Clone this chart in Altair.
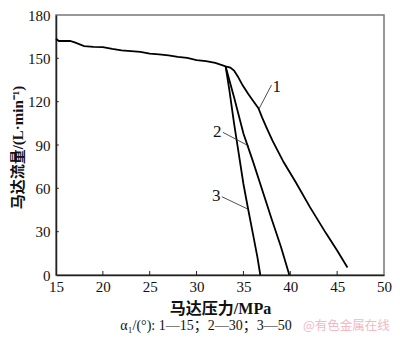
import altair as alt
import pandas as pd

# Curve 1 (alpha1 = 15)
c1_p = [15, 15.3, 16.5, 17, 18, 19, 20, 21, 22, 23, 24, 25, 26, 27, 28, 29, 30, 31, 32, 33.1,
        33.6, 34.0, 34.4, 34.9, 35.5, 36.1, 36.6, 37.0, 37.5, 38.1, 39.3, 40.6, 42.1, 43.8, 45, 46.1]
c1_q = [163.5, 162, 162, 161, 158.5, 158, 157.8, 156.5, 155.5, 155, 154.5, 153.2, 152.8, 152, 151, 150.3, 148.8, 148, 146.8, 144.4,
        143.6, 141.5, 137.5, 131.5, 125.5, 120, 115.5, 109, 101.5, 93, 78, 64, 47, 29, 17, 5.2]
# Curve 2 (alpha1 = 30)
c2_p = [33.1, 34, 35, 36, 37, 38, 39, 39.9]
c2_q = [144.4, 123, 98, 79, 59, 39, 19.5, 0]
# Curve 3 (alpha1 = 50)
c3_p = [33.1, 33.5, 34, 34.5, 35, 35.5, 36, 36.5, 36.8]
c3_q = [144.4, 128, 105, 84, 63, 45.7, 29, 12, 0]

# Curve labels and leader lines
lab_text = ["1", "2", "3"]
lab_p = [38.55, 32.2, 32.1]
lab_q = [130.5, 99.3, 54.9]
lead_p1 = [38.0, 32.8, 32.7]
lead_q1 = [131.6, 98.8, 54.2]
lead_p2 = [36.66, 35.6, 35.45]
lead_q2 = [115, 89.2, 45.7]

x_ticks = [15, 20, 25, 30, 35, 40, 45, 50]
y_ticks = [0, 30, 60, 90, 120, 150, 180]
inner_x_ticks = [20, 25, 30, 35, 40, 45]
inner_y_ticks = [30, 60, 90, 120, 150]

caption = "α₁/(°): 1—15；2—30；3—50"
watermark = "@有色金属在线"

rows = []
for s, ps, qs in (("1", c1_p, c1_q), ("2", c2_p, c2_q), ("3", c3_p, c3_q)):
    for i, (p, q) in enumerate(zip(ps, qs)):
        rows.append({"s": s, "i": i, "p": p, "q": q})
curves = pd.DataFrame(rows)

labels = pd.DataFrame({"t": lab_text, "p": lab_p, "q": lab_q})
leaders = pd.DataFrame({"p": lead_p1, "q": lead_q1, "p2": lead_p2, "q2": lead_q2})
xt = pd.DataFrame({"p": inner_x_ticks, "q": [0] * len(inner_x_ticks), "q2": [2.8] * len(inner_x_ticks)})
yt = pd.DataFrame({"q": inner_y_ticks, "p": [15] * len(inner_y_ticks), "p2": [15.3] * len(inner_y_ticks)})

FONT = "Liberation Serif, Noto Sans CJK SC"

xscale = alt.Scale(domain=[15, 50], nice=False, zero=False)
yscale = alt.Scale(domain=[0, 180], nice=False)

xaxis = alt.Axis(values=x_ticks, ticks=False, tickSize=0, grid=False, domainColor="#222", domainWidth=1.5,
                 labelFont="Liberation Serif", labelFontSize=15, labelColor="#111", labelPadding=4,
                 labelOverlap=False, labelFlush=False,
                 title="马达压力/MPa", titleFont=FONT, titleFontSize=16, titleFontWeight="bold",
                 titleColor="#111", titlePadding=6)
yaxis = alt.Axis(values=y_ticks, ticks=False, tickSize=0, grid=False, domainColor="#222", domainWidth=1.5,
                 labelFont="Liberation Serif", labelFontSize=15, labelColor="#111", labelPadding=6,
                 labelOverlap=False, labelFlush=False,
                 title="马达流量/(L·min⁻¹)", titleFont=FONT, titleFontSize=15, titleFontWeight="bold",
                 titleColor="#111", titleX=-31, titleY=132)

lines = alt.Chart(curves).mark_line(color="black", strokeWidth=1.8).encode(
    x=alt.X("p:Q", scale=xscale, axis=xaxis),
    y=alt.Y("q:Q", scale=yscale, axis=yaxis),
    detail="s:N",
    order="i:Q",
)

lead = alt.Chart(leaders).mark_rule(color="#222", strokeWidth=0.8).encode(
    x="p:Q", y="q:Q", x2="p2:Q", y2="q2:Q"
)

txt = alt.Chart(labels).mark_text(font="Liberation Serif", fontSize=17, color="#111",
                                  align="center", baseline="middle").encode(
    x="p:Q", y="q:Q", text="t:N"
)

xticks = alt.Chart(xt).mark_rule(color="#222", strokeWidth=1).encode(x="p:Q", y="q:Q", y2="q2:Q")
yticks = alt.Chart(yt).mark_rule(color="#222", strokeWidth=1).encode(y="q:Q", x="p:Q", x2="p2:Q")

cap = alt.Chart(pd.DataFrame({"t": [caption]})).mark_text(
    font=FONT, fontSize=14, color="#111", align="center", baseline="middle"
).encode(x=alt.value(150), y=alt.value(311), text="t:N")

wm = alt.Chart(pd.DataFrame({"t": [watermark]})).mark_text(
    font="Noto Sans CJK SC", fontSize=12.5, color="#f2b9c2", align="left", baseline="middle"
).encode(x=alt.value(247), y=alt.value(311), text="t:N")

chart = alt.layer(lines, lead, txt, xticks, yticks, cap, wm).properties(
    width=328, height=260,
    padding={"left": 48, "top": 7, "right": 8, "bottom": 60},
    autosize=alt.AutoSizeParams(type="none"),
).configure_view(stroke="#777", strokeWidth=1.5)

chart.save("out.html", embed_options={"renderer": "svg", "actions": False})
